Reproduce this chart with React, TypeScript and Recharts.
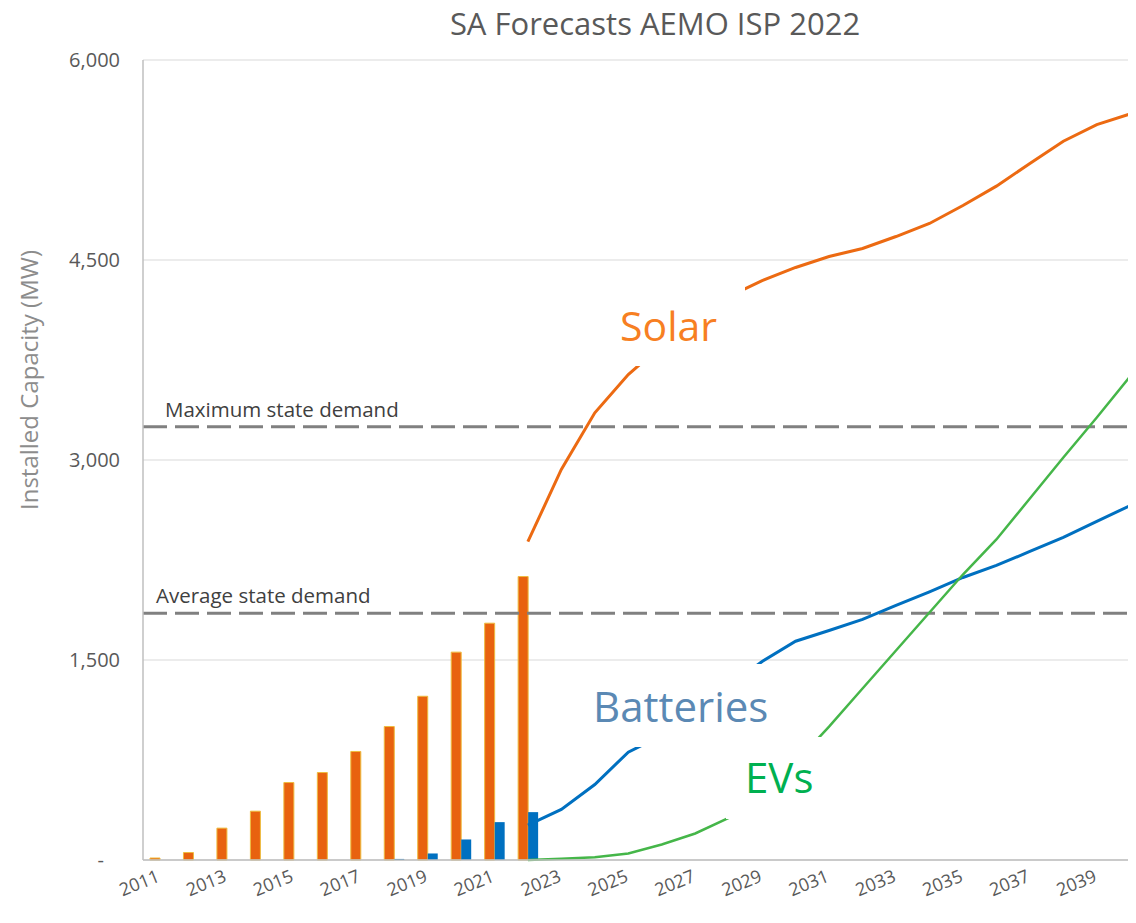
import React from 'react';
import { ComposedChart, Bar, Line, XAxis, YAxis, CartesianGrid, ReferenceLine, Label } from 'recharts';

const years = ['2011','2012','2013','2014','2015','2016','2017','2018','2019','2020','2021','2022','2023','2024','2025','2026','2027','2028','2029','2030','2031','2032','2033','2034','2035','2036','2037','2038','2039','2040'];

// Installed (historical) capacity, 2011-2022
const solarInstalled = [15, 56, 239, 366, 581, 656, 814, 1001, 1228, 1559, 1776, 2126];
const batteryInstalled = [null, null, null, null, null, null, null, 8, 49, 154, 284, 359];

// Forecasts, 2022-2040
const forecastStart = '2022';
const solarForecast = [2387, 2929, 3354, 3641, 3859, 4054, 4226, 4346, 4444, 4526, 4586, 4676, 4774, 4909, 5054, 5224, 5391, 5516, 5596];
const batteryForecast = [261, 379, 566, 809, 934, 1120, 1305, 1489, 1641, 1721, 1804, 1909, 2011, 2119, 2209, 2314, 2419, 2539, 2659];
const evForecast = [0, 10, 21, 49, 116, 199, 316, 490, 730, 1000, 1286, 1571, 1856, 2141, 2404, 2711, 3019, 3319, 3629];

const yTicks = [0, 1500, 3000, 4500, 6000];
const maxDemand = 3250;
const avgDemand = 1850;

const fStart = years.indexOf(forecastStart);
const data = years.map((year, i) => ({
  year,
  solarBar: i < solarInstalled.length ? solarInstalled[i] : null,
  batteryBar: i < batteryInstalled.length ? batteryInstalled[i] : null,
  solar: i >= fStart ? solarForecast[i - fStart] : null,
  battery: i >= fStart ? batteryForecast[i - fStart] : null,
  ev: i >= fStart ? evForecast[i - fStart] : null,
}));

const FONT = '"Open Sans", "DejaVu Sans", sans-serif';

const XTick = (props: any) => {
  const { x, y, payload } = props;
  return (
    <g transform={`translate(${x + 1},${y + 13})`}>
      <text x={0} y={0} textAnchor="end" transform="rotate(-22)" fill="#595959" fontSize={18} fontFamily={FONT}>
        {payload.value}
      </text>
    </g>
  );
};

const YTick = (props: any) => {
  const { x, y, payload } = props;
  const v = payload.value;
  return (
    <text x={x} y={y} dx={v === 0 ? -31 : -15} dy={7} textAnchor="end" fill="#595959" fontSize={20} fontFamily={FONT}>
      {v === 0 ? '-' : Number(v).toLocaleString('en-US')}
    </text>
  );
};

const refLabel = (text: string, dx: number) => (props: any) => {
  const vb = props.viewBox || {};
  return (
    <text x={vb.x + dx} y={vb.y - 10} fill="#404040" fontSize={20.5} fontFamily={FONT}>
      {text}
    </text>
  );
};

const yLabel = (props: any) => {
  const vb = props.viewBox || {};
  const cx = vb.x + 38;
  const cy = 380;
  return (
    <text x={cx} y={cy} textAnchor="middle" transform={`rotate(-90, ${cx}, ${cy})`} fill="#8c8c8c" fontSize={24} fontFamily={FONT}>
      Installed Capacity (MW)
    </text>
  );
};

export default function App() {
  return (
    <div style={{ position: 'relative', width: 1136, height: 923, overflow: 'hidden', background: '#fff', margin: '-8px 0 0 -8px' }}>
      <ComposedChart width={1147} height={923} data={data} margin={{ top: 60, right: 0, bottom: 1, left: 0 }} barGap={0} barSize={10}>
        <CartesianGrid vertical={false} stroke="#d9d9d9" strokeWidth={1} />
        <XAxis dataKey="year" interval={1} tickLine={false} axisLine={{ stroke: '#bfbfbf', strokeWidth: 1.5 }} height={62} tick={<XTick />} />
        <YAxis domain={[0, 6000]} ticks={yTicks} width={143} tickLine={false} axisLine={{ stroke: '#bfbfbf', strokeWidth: 1.5 }} tick={<YTick />}>
          <Label content={yLabel} />
        </YAxis>
        <Bar dataKey="solarBar" fill="#E8620F" stroke="#EEBB3E" strokeWidth={1} isAnimationActive={false} />
        <Bar dataKey="batteryBar" fill="#0070C0" isAnimationActive={false} />
        <ReferenceLine y={maxDemand} stroke="#808080" strokeWidth={3} strokeDasharray="24 8" label={refLabel('Maximum state demand', 22)} />
        <ReferenceLine y={avgDemand} stroke="#808080" strokeWidth={3} strokeDasharray="24 8" label={refLabel('Average state demand', 13)} />
        <Line dataKey="solar" type="linear" stroke="#EC6A12" strokeWidth={3} dot={false} isAnimationActive={false} />
        <Line dataKey="battery" type="linear" stroke="#0070C0" strokeWidth={3} dot={false} isAnimationActive={false} />
        <Line dataKey="ev" type="linear" stroke="#45B649" strokeWidth={2.5} dot={false} isAnimationActive={false} />
      </ComposedChart>
      <svg width={1136} height={923} style={{ position: 'absolute', left: 0, top: 0, pointerEvents: 'none' }}>
        <text x={655} y={35} textAnchor="middle" fill="#595959" fontSize={31} fontFamily={FONT}>SA Forecasts AEMO ISP 2022</text>
        <rect x={612} y={285} width={133} height={81} fill="#fff" />
        <text x={620} y={341} fill="#F77F22" fontSize={41} fontFamily={FONT}>Solar</text>
        <rect x={586} y={664} width={184} height={83} fill="#fff" />
        <text x={593} y={722} fill="#5B89B4" fontSize={42} fontFamily={FONT}>Batteries</text>
        <rect x={726} y={737} width={96} height={82} fill="#fff" />
        <text x={745} y={793} fill="#00B050" fontSize={42} fontFamily={FONT}>EVs</text>
      </svg>
    </div>
  );
}
